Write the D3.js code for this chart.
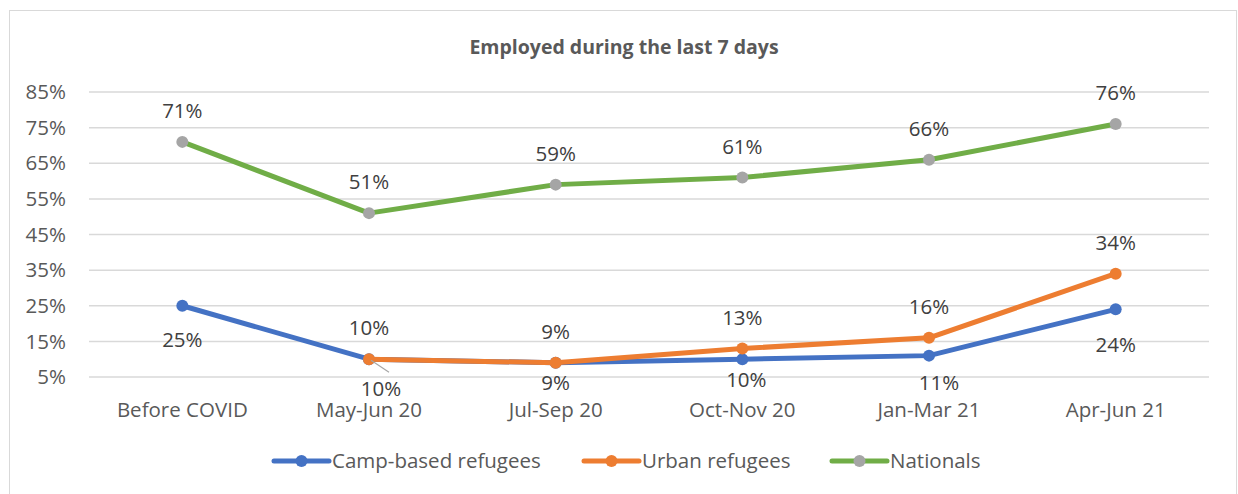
<!DOCTYPE html>
<html>
<head>
<meta charset="utf-8">
<script src="https://cdn.jsdelivr.net/npm/d3@7"></script>
<style>
  body { margin: 0; background: #fff; }
  text { font-family: "Open Sans", sans-serif; }
</style>
</head>
<body>
<svg id="chart"></svg>
<script>
var width = 1238,
    height = 494;

// chart data
var categories = ["Before COVID", "May-Jun 20", "Jul-Sep 20", "Oct-Nov 20", "Jan-Mar 21", "Apr-Jun 21"];
var campValues = [25, 10, 9, 10, 11, 24];
var urbanValues = [null, 10, 9, 13, 16, 34];
var nationalValues = [71, 51, 59, 61, 66, 76];
var yTicks = [5, 15, 25, 35, 45, 55, 65, 75, 85];

// label nudges for the camp series (Excel labels were dragged by hand)
var campLabelDy = [34, 30, 20, 21, 27, 36];
var campLabelDx = [0, 12, 0, 4, 10, 0];

var series = [
  { name: "Camp-based refugees", values: campValues, color: "#4472C4", marker: "#4472C4", above: false },
  { name: "Urban refugees", values: urbanValues, color: "#ED7D31", marker: "#ED7D31", above: true },
  { name: "Nationals", values: nationalValues, color: "#70AD47", marker: "#A5A5A5", above: true }
];

var fontSize = "20.5px";

var svg = d3.select("#chart").attr("width", width).attr("height", height);

// outer frame
svg.append("rect")
    .attr("x", 9.5).attr("y", 10.5)
    .attr("width", 1227).attr("height", 490)
    .attr("fill", "#fff").attr("stroke", "#D9D9D9");

svg.append("text")
    .attr("x", 624).attr("y", 54)
    .attr("text-anchor", "middle")
    .style("font-size", "19.5px").style("font-weight", "bold")
    .style("fill", "#595959")
    .text("Employed during the last 7 days");

var x = d3.scaleBand().domain(categories).range([89, 1209]);
var y = d3.scaleLinear().domain([5, 85]).range([377, 92]);
function cx(i) { return x(categories[i]) + x.bandwidth() / 2; }

// gridlines
svg.append("g").selectAll("line")
    .data(yTicks).enter().append("line")
    .attr("x1", 89).attr("x2", 1209)
    .attr("y1", function(d) { return y(d); })
    .attr("y2", function(d) { return y(d); })
    .attr("stroke", "#D9D9D9").attr("stroke-width", 1.5);

// y axis labels
svg.append("g").selectAll("text")
    .data(yTicks).enter().append("text")
    .attr("x", 66).attr("y", function(d) { return y(d); })
    .attr("dy", "0.35em")
    .attr("text-anchor", "end")
    .style("font-size", fontSize).style("fill", "#595959")
    .text(function(d) { return d + "%"; });

// x axis labels
svg.append("g").selectAll("text")
    .data(categories).enter().append("text")
    .attr("x", function(d, i) { return cx(i); })
    .attr("y", 410).attr("dy", "0.35em")
    .attr("text-anchor", "middle")
    .style("font-size", fontSize).style("fill", "#595959")
    .text(function(d) { return d; });

var line = d3.line()
    .defined(function(d) { return d != null; })
    .x(function(d, i) { return cx(i); })
    .y(function(d) { return y(d); });

series.forEach(function(s) {
  var g = svg.append("g");
  g.append("path")
      .datum(s.values)
      .attr("d", line)
      .attr("fill", "none")
      .attr("stroke", s.color)
      .attr("stroke-width", 5)
      .attr("stroke-linejoin", "round");
  g.selectAll("circle")
      .data(s.values.map(function(v, i) { return { v: v, i: i }; }).filter(function(d) { return d.v != null; }))
      .enter().append("circle")
      .attr("cx", function(d) { return cx(d.i); })
      .attr("cy", function(d) { return y(d.v); })
      .attr("r", 6)
      .attr("fill", s.marker);
});

// leader line for the dragged May-Jun camp label
svg.append("line")
    .attr("x1", cx(1) + 2).attr("y1", y(campValues[1]) + 1)
    .attr("x2", cx(1) + 20).attr("y2", y(campValues[1]) + 13)
    .attr("stroke", "#A5A5A5").attr("stroke-width", 1.2);

// data labels
series.forEach(function(s) {
  svg.append("g").selectAll("text")
      .data(s.values.map(function(v, i) { return { v: v, i: i }; }).filter(function(d) { return d.v != null; }))
      .enter().append("text")
      .attr("x", function(d) { return cx(d.i) + (s.above ? 0 : campLabelDx[d.i]); })
      .attr("y", function(d) { return y(d.v) + (s.above ? -31 : campLabelDy[d.i]); })
      .attr("dy", "0.35em")
      .attr("text-anchor", "middle")
      .style("font-size", fontSize).style("fill", "#404040")
      .text(function(d) { return d.v + "%"; });
});

// legend
var legendX = [274, 584, 832];
var legend = svg.append("g").selectAll("g")
    .data(series).enter().append("g")
    .attr("transform", function(d, i) { return "translate(" + legendX[i] + ",461)"; });
legend.append("line")
    .attr("x1", 0).attr("x2", 55)
    .attr("stroke", function(d) { return d.color; })
    .attr("stroke-width", 5).attr("stroke-linecap", "round");
legend.append("circle")
    .attr("cx", 27.5).attr("r", 6)
    .attr("fill", function(d) { return d.marker; });
legend.append("text")
    .attr("x", 58).attr("dy", "0.35em")
    .style("font-size", fontSize).style("fill", "#595959")
    .text(function(d) { return d.name; });
</script>
</body>
</html>
